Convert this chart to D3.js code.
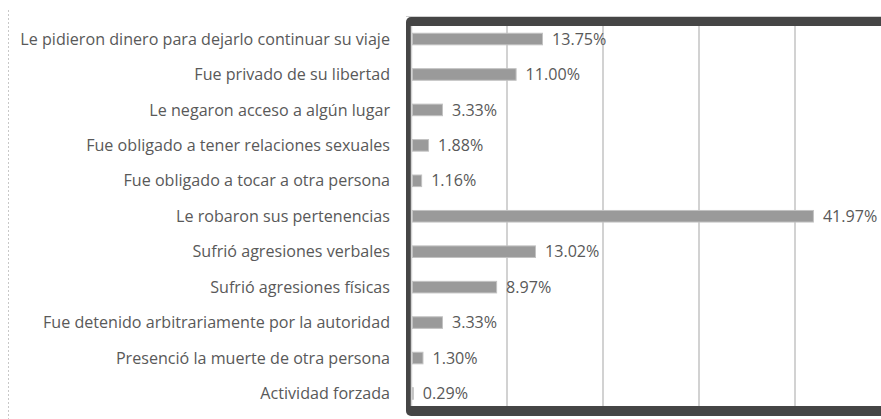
<!DOCTYPE html>
<html>
<head>
<meta charset="utf-8">
<script src="https://cdn.jsdelivr.net/npm/d3@7"></script>
<style>
  html, body { margin: 0; padding: 0; background: #fff; }
  svg { display: block; }
</style>
</head>
<body>
<svg id="chart" width="881" height="419"></svg>
<script>
const categories = [
  "Le pidieron dinero para dejarlo continuar su viaje",
  "Fue privado de su libertad",
  "Le negaron acceso a algún lugar",
  "Fue obligado a tener relaciones sexuales",
  "Fue obligado a tocar a otra persona",
  "Le robaron sus pertenencias",
  "Sufrió agresiones verbales",
  "Sufrió agresiones físicas",
  "Fue detenido arbitrariamente por la autoridad",
  "Presenció la muerte de otra persona",
  "Actividad forzada"
];
const values = [13.75, 11.00, 3.33, 1.88, 1.16, 41.97, 13.02, 8.97, 3.33, 1.30, 0.29];
const valueLabels = ["13.75%", "11.00%", "3.33%", "1.88%", "1.16%", "41.97%", "13.02%", "8.97%", "3.33%", "1.30%", "0.29%"];
const gridTicks = [10, 20, 30, 40, 50];

const svg = d3.select("#chart");
const fontFamily = "'Open Sans', 'Noto Sans', sans-serif";
const textColor = "#595959";

const x = d3.scaleLinear().domain([0, 50]).range([411, 891]);
const y = d3.scaleBand().domain(categories).range([21.3, 411.2])
  .paddingInner(0.645).paddingOuter(0.3225);

// dotted left line
svg.append("line")
  .attr("x1", 8.5).attr("x2", 8.5).attr("y1", 10).attr("y2", 419)
  .attr("stroke", "#c8c8c8").attr("stroke-width", 1)
  .attr("stroke-dasharray", "2,2");

// frame: dark rounded rect with white interior
svg.append("rect")
  .attr("x", 406).attr("y", 17).attr("width", 600).attr("height", 399)
  .attr("rx", 5).attr("fill", "#454545");
svg.append("rect")
  .attr("x", 411).attr("y", 26).attr("width", 600).attr("height", 380)
  .attr("fill", "#ffffff");
svg.append("line")
  .attr("x1", 406).attr("x2", 881).attr("y1", 16.5).attr("y2", 16.5)
  .attr("stroke", "#d0d0d0").attr("stroke-width", 1);

// gridlines
svg.append("g").selectAll("line").data(gridTicks).join("line")
  .attr("x1", d => x(d)).attr("x2", d => x(d))
  .attr("y1", 26).attr("y2", 406)
  .attr("stroke", "#d2d2d2").attr("stroke-width", 2);

// axis line
svg.append("line")
  .attr("x1", x(0) + 0.5).attr("x2", x(0) + 0.5).attr("y1", 26).attr("y2", 406)
  .attr("stroke", "#d2d2d2").attr("stroke-width", 1.5);

// bars
svg.append("g").selectAll("rect").data(values).join("rect")
  .attr("x", x(0) + 1.5)
  .attr("y", (d, i) => y(categories[i]) + 0.5)
  .attr("width", d => Math.max(0, x(d) - x(0) - 2))
  .attr("height", y.bandwidth() - 1)
  .attr("fill", "#9a9a9a")
  .attr("stroke", "#c2c2c2")
  .attr("stroke-width", 1);

// category labels
const labels = svg.append("g").selectAll("text").data(categories).join("text")
  .attr("x", 390)
  .attr("y", d => y(d) + y.bandwidth() / 2)
  .attr("dy", "0.35em")
  .attr("text-anchor", "end")
  .attr("font-family", fontFamily)
  .attr("font-size", 14)
  .attr("fill", textColor)
  .text(d => d);

// fit font size so the longest label spans the same width as the reference
let maxW = 0;
labels.each(function () { maxW = Math.max(maxW, this.getComputedTextLength()); });
const fs = 14 * 370 / maxW;
labels.attr("font-size", fs);

// value labels
svg.append("g").selectAll("text").data(values).join("text")
  .attr("x", d => x(d) + 9)
  .attr("y", (d, i) => y(categories[i]) + y.bandwidth() / 2)
  .attr("dy", "0.35em")
  .attr("font-family", fontFamily)
  .attr("font-size", fs)
  .attr("fill", textColor)
  .text((d, i) => valueLabels[i]);
</script>
</body>
</html>
